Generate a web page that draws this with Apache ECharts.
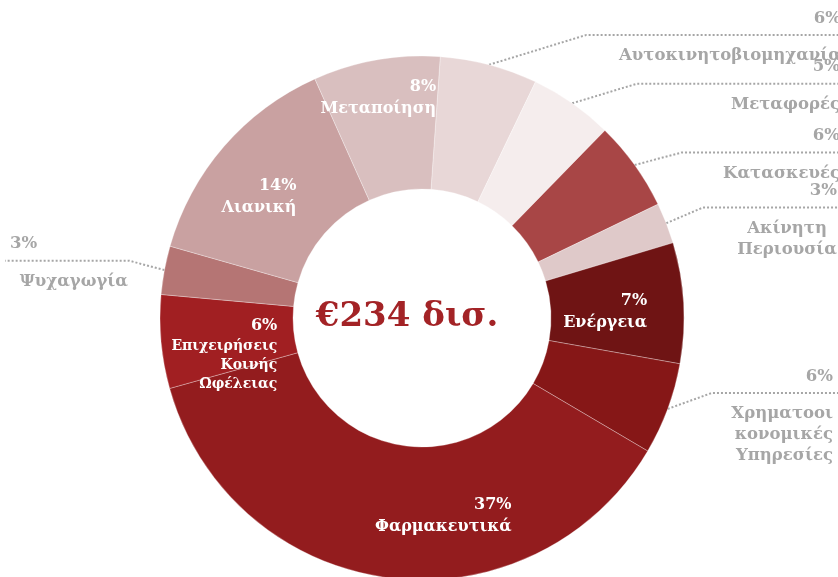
<!DOCTYPE html>
<html><head><meta charset="utf-8">
<script src="https://cdn.jsdelivr.net/npm/echarts@6/dist/echarts.min.js"></script>
<style>html,body{margin:0;padding:0;background:#fff}#c{width:838px;height:577px}</style>
</head><body><div id="c"></div>
<script>
// ---- data ----
const categories = ['Αυτοκινητοβιομηχανία','Μεταφορές','Κατασκευές','Ακίνητη\nΠεριουσία','Ενέργεια','Χρηματοοι\nκονομικές\nΥπηρεσίες','Φαρμακευτικά','Επιχειρήσεις\nΚοινής\nΩφέλειας','Ψυχαγωγία','Λιανική','Μεταποίηση'];
const values = [14.1, 12.1, 13.0, 5.9, 17.4, 13.3, 87.1, 13.5, 7.0, 32.5, 18.3]; // € δισ.
const centerText = '€234 δισ.';

// ---- styles ----
const colors = ['#e8d7d7','#f5eded','#a84646','#dfc9c9','#6f1414','#861717','#931c1e','#a11f22','#b57574','#c9a1a1','#d9bfbf'];
const insideOffsets = {
  'Ενέργεια': [-15, 5],
  'Φαρμακευτικά': [47, 1],
  'Επιχειρήσεις\nΚοινής\nΩφέλειας': [0, 18.5],
  'Λιανική': [-13, 8.5],
  'Μεταποίηση': [-9, -24.5]
};
const outsideTweaks = {
  'Αυτοκινητοβιομηχανία': {dy: 4, edge: 841},
  'Μεταφορές': {dy: 9, edge: 840},
  'Κατασκευές': {dy: 8, edge: 840},
  'Ακίνητη\nΠεριουσία': {dy: -3, edge: 837},
  'Χρηματοοι\nκονομικές\nΥπηρεσίες': {dy: -28, edge: 833},
  'Ψυχαγωγία': {dy: -3, edge: 10}
};
const FONT = 'DejaVu Serif';
const FS_IN = 16, FS_OUT = 16.5;
const GRAY = '#a6a6a6';
const CX = 422, CY = 318, R0 = 129, R = 262, START = 86;
const RA = 297, ELL_A = 297, ELL_B = 340;
const P_LH = 12, HR_LH = 21, N_LH = 21;

const total = values.reduce((a, b) => a + b, 0);
const midAngles = [];
{ let acc = 0; values.forEach(v => { midAngles.push((90 - START) + (acc + v / 2) / total * 360); acc += v; }); }

const chart = echarts.init(document.getElementById('c'), null, {renderer: 'canvas'});
const W = chart.getWidth();

const data = categories.map((name, i) => {
  const item = {name, value: values[i], itemStyle: {color: colors[i]}};
  if (insideOffsets[name]) {
    item.label = {position: 'inside', offset: insideOffsets[name]};
    if (name === 'Επιχειρήσεις\nΚοινής\nΩφέλειας') item.label.rich = {in: {fontSize: 14, lineHeight: 19}};
    item.labelLine = {show: false};
  } else if (name === 'Ψυχαγωγία') {
    item.label = {width: 118, rich: {p: {align: 'left'}, n: {align: 'right'}}};
  } else if (name === 'Ακίνητη\nΠεριουσία') {
    item.label = {rich: {n: {align: 'center'}}};
  }
  return item;
});

const tok = (fs, extra) => Object.assign({fontFamily: FONT, fontWeight: 'bold', fontSize: fs}, extra);

chart.setOption({
  animation: false,
  backgroundColor: '#fff',
  graphic: [{
    type: 'text', x: 407, y: 317,
    style: {text: centerText, fill: '#a32326', font: 'bold 34px "DejaVu Serif"', textAlign: 'center', textVerticalAlign: 'middle'}
  }],
  series: [{
    type: 'pie',
    center: [CX, CY],
    radius: [R0, R],
    startAngle: START,
    clockwise: true,
    avoidLabelOverlap: false,
    itemStyle: {borderColor: 'rgba(255,255,255,0.3)', borderWidth: 1},
    data,
    label: {
      show: true,
      position: 'outside',
      fontFamily: FONT, fontWeight: 'bold', fontSize: FS_OUT, color: GRAY,
      formatter: (p) => {
        const pct = Math.round(p.value / total * 100);
        if (insideOffsets[p.name]) return '{ip|' + pct + '%}\n{in|' + p.name + '}';
        return '{p|' + pct + '%}\n{hr|}\n{n|' + p.name + '}';
      },
      rich: {
        p: tok(FS_OUT, {color: GRAY, lineHeight: P_LH, align: 'right'}),
        hr: {height: 0, lineHeight: HR_LH, width: '100%'},
        n: tok(FS_OUT, {color: GRAY, lineHeight: N_LH, align: 'right'}),
        ip: tok(FS_IN, {color: '#fff', lineHeight: 22, align: 'right'}),
        in: tok(FS_IN, {color: '#fff', lineHeight: 22, align: 'right'})
      }
    },
    labelLine: {show: true, length: 5, length2: 5, lineStyle: {color: GRAY, width: 2, type: 'dotted'}},
    labelLayout: function (params) {
      const name = categories[params.dataIndex];
      if (name == null || insideOffsets[name]) return {};
      const th = midAngles[params.dataIndex] * Math.PI / 180;
      const s = Math.sin(th), c = Math.cos(th);
      const p0 = [CX + R * s, CY - R * c];
      const t = outsideTweaks[name] || {};
      const hrY = CY - RA * c + (t.dy || 0);
      const right = s > 0;
      const k = Math.sqrt(Math.max(0, 1 - Math.pow((hrY - CY) / ELL_B, 2)));
      const bend = [CX + (right ? 1 : -1) * ELL_A * k, hrY];
      const endX = right ? W : 5;
      return {
        x: t.edge != null ? t.edge : (right ? W : 10),
        y: hrY - P_LH - HR_LH / 2,
        align: right ? 'right' : 'left',
        verticalAlign: 'top',
        labelLinePoints: [p0, bend, [endX, hrY]]
      };
    }
  }]
});
</script>
</body></html>
